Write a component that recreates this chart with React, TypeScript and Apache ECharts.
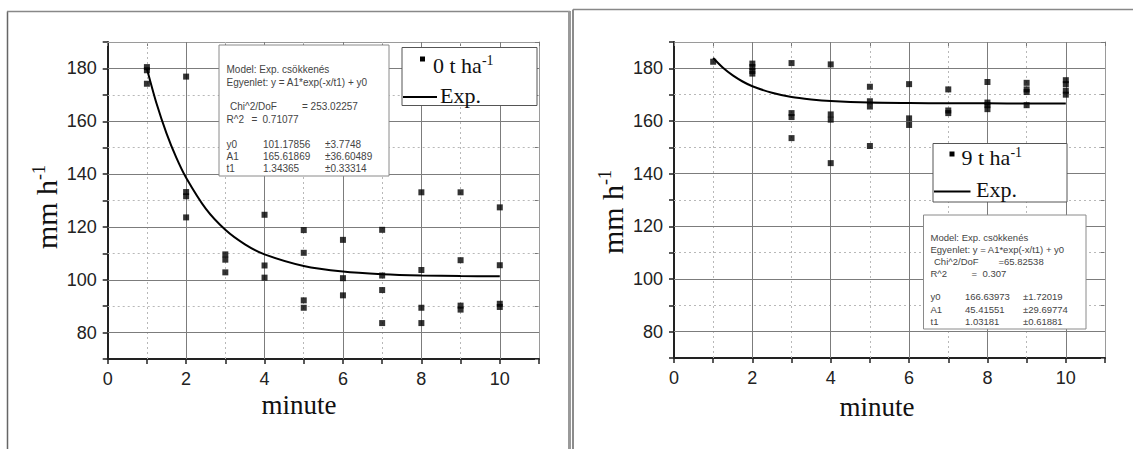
import React, { useEffect, useRef } from 'react';
import * as echarts from 'echarts';

// ---- data ----
const minutes = [1, 2, 3, 4, 5, 6, 7, 8, 9, 10];

// 0 t ha-1 (left panel), values per minute
const leftValues: number[][] = [
  [180.5, 179.3, 174.2],
  [176.9, 133.2, 131.6, 123.6],
  [109.6, 107.6, 102.8],
  [124.6, 105.4, 100.8],
  [118.8, 110.2, 92.2, 89.4],
  [115.1, 100.6, 94.1],
  [118.9, 101.6, 96.1, 83.6],
  [133.1, 103.7, 89.4, 83.6],
  [133.1, 107.4, 90.2, 88.7],
  [127.4, 105.5, 90.9, 89.7],
];

// 9 t ha-1 (right panel), values per minute
const rightValues: number[][] = [
  [182.5],
  [181.8, 180.5, 179.0, 178.0],
  [182.0, 163.0, 161.5, 153.5],
  [181.5, 162.5, 160.5, 144.0],
  [173.0, 167.5, 165.5, 150.5],
  [174.0, 161.0, 158.5],
  [172.0, 164.0, 163.0],
  [174.8, 167.0, 166.0, 164.5],
  [174.5, 172.0, 171.0, 166.0],
  [175.5, 174.0, 171.5, 170.0],
];

// fitted "Exp." curves
const fitMinutes = [1, 1.25, 1.5, 1.75, 2, 2.5, 3, 3.5, 4, 5, 6, 7, 8, 9, 10];
const leftFit = [179.9, 166.5, 155.4, 146.2, 138.6, 126.9, 118.9, 113.4, 109.6, 105.2, 103.1, 102.1, 101.6, 101.4, 101.3];
const rightFit = [183.9, 180.2, 177.3, 175.0, 173.2, 170.7, 169.1, 168.2, 167.6, 167.0, 166.8, 166.7, 166.7, 166.6, 166.6];

// axis ticks
const yMajorTicks = [80, 100, 120, 140, 160, 180];
const yMinorTicks = [90, 110, 130, 150, 170];
const xMajorTicks = [2, 4, 6, 8, 10];
const xMinorTicks = [1, 3, 5, 7, 9];

// texts
const leftStats = {
  model: 'Model: Exp. csökkenés',
  eq: 'Egyenlet: y = A1*exp(-x/t1) + y0',
  chi: '= 253.02257',
  r2: '0.71077',
  rows: [
    ['y0', '101.17856', '±3.7748'],
    ['A1', '165.61869', '±36.60489'],
    ['t1', '1.34365', '±0.33314'],
  ],
};
const rightStats = {
  model: 'Model: Exp. csökkenés',
  eq: 'Egyenlet: y = A1*exp(-x/t1) + y0',
  chi: '=65.82538',
  r2: '0.307',
  rows: [
    ['y0', '166.63973', '±1.72019'],
    ['A1', '45.41551', '±29.69774'],
    ['t1', '1.03181', '±0.61881'],
  ],
};

const SANS = 'Liberation Sans, Arial, sans-serif';
const SERIF = 'Liberation Serif, Times New Roman, serif';

function gridLines() {
  return [
    ...yMinorTicks.map((v) => ({ yAxis: v, lineStyle: { color: '#b8b8b8', width: 1, type: [2, 3] } })),
    ...xMinorTicks.map((v) => ({ xAxis: v, lineStyle: { color: '#b8b8b8', width: 1, type: [2, 3] } })),
    ...yMajorTicks.map((v) => ({ yAxis: v, lineStyle: { color: '#7c7c7c', width: 1, type: 'solid' } })),
    ...xMajorTicks.map((v) => ({ xAxis: v, lineStyle: { color: '#7c7c7c', width: 1, type: 'solid' } })),
  ];
}

function axesFor(grid: number) {
  const xLabel = (v: number) => (v % 2 === 0 && v <= 10 ? String(v) : '');
  const yLabel = (v: number) => (yMajorTicks.includes(v) ? String(v) : '');
  const xa = [
    {
      type: 'value', gridIndex: grid, position: 'bottom', min: 0, max: 11, interval: 1,
      axisLine: { show: true, onZero: false, lineStyle: { color: '#222', width: 2 } },
      axisTick: { show: true, inside: false, length: 5, lineStyle: { color: '#222', width: 1.5 } },
      axisLabel: { formatter: xLabel, fontSize: 18, color: '#222', fontFamily: SANS, margin: 11 },
      splitLine: { show: false },
    },
    {
      type: 'value', gridIndex: grid, position: 'top', min: 0, max: 11, interval: 1,
      axisLine: { show: true, onZero: false, lineStyle: { color: '#9a9a9a', width: 1 } },
      axisTick: { show: true, inside: true, length: 4, lineStyle: { color: '#777' } },
      axisLabel: { show: false },
      splitLine: { show: false },
    },
  ];
  const ya = [
    {
      type: 'value', gridIndex: grid, position: 'left', min: 70, max: 190, interval: 10,
      axisLine: { show: true, onZero: false, lineStyle: { color: '#222', width: 2 } },
      axisTick: { show: true, inside: false, length: 5, lineStyle: { color: '#222', width: 1.5 } },
      axisLabel: { formatter: yLabel, fontSize: 18, color: '#222', fontFamily: SANS, margin: 11 },
      splitLine: { show: false },
    },
    {
      type: 'value', gridIndex: grid, position: 'right', min: 70, max: 190, interval: 10,
      axisLine: { show: true, onZero: false, lineStyle: { color: '#9a9a9a', width: 1 } },
      axisTick: { show: true, inside: true, length: 4, lineStyle: { color: '#777' } },
      axisLabel: { show: false },
      splitLine: { show: false },
    },
  ];
  return { xa, ya };
}

function seriesFor(grid: number, values: number[][], fit: number[], name: string) {
  const xi = grid * 2;
  const yi = grid * 2;
  return [
    {
      name,
      type: 'scatter',
      xAxisIndex: xi,
      yAxisIndex: yi,
      data: minutes.flatMap((m, i) => values[i].map((v) => [m, v])),
      symbol: 'rect',
      symbolSize: 6,
      itemStyle: { color: '#000' },
      z: 4,
      silent: true,
      markLine: {
        silent: true,
        symbol: ['none', 'none'],
        label: { show: false },
        z: 1,
        data: gridLines(),
      },
    },
    {
      name: 'Exp.',
      type: 'line',
      xAxisIndex: xi,
      yAxisIndex: yi,
      data: fitMinutes.map((x, i) => [x, fit[i]]),
      smooth: 0.3,
      showSymbol: false,
      symbol: 'none',
      lineStyle: { color: '#000', width: 2 },
      z: 5,
      silent: true,
    },
  ];
}

function statsBox(x: number, y: number, w: number, h: number, s: typeof leftStats, fs: number, rowsY: number[], cols: number[], chiX: number, eqX: number) {
  const t = (text: string, tx: number, ty: number) => ({
    type: 'text', x: tx, y: ty, z: 101,
    style: { text, fill: '#444', fontSize: fs, fontFamily: SANS, align: 'left', verticalAlign: 'middle' },
  });
  return [
    { type: 'rect', z: 100, shape: { x, y, width: w, height: h }, style: { fill: '#fff', stroke: '#8a8a8a', lineWidth: 1 } },
    t(s.model, cols[0], rowsY[0]),
    t(s.eq, cols[0], rowsY[1]),
    t('Chi^2/DoF', cols[0] + 3.5, rowsY[2]),
    t(s.chi, chiX, rowsY[2]),
    t('R^2', cols[0], rowsY[3]),
    t('=', eqX, rowsY[3]),
    t(s.r2, eqX + 11, rowsY[3]),
    ...s.rows.flatMap((r, i) => r.map((c, j) => t(c, cols[j], rowsY[4 + i]))),
  ];
}

function legendBox(x: number, y: number, w: number, h: number, label: string, mx: number, my: number, tx: number, ty: number, lx1: number, lx2: number, ly: number, ex: number, ey: number) {
  return [
    { type: 'rect', z: 100, shape: { x, y, width: w, height: h }, style: { fill: '#fff', stroke: '#555', lineWidth: 1 } },
    { type: 'rect', z: 101, shape: { x: mx, y: my, width: 5, height: 5 }, style: { fill: '#000' } },
    {
      type: 'text', z: 101, x: tx, y: ty,
      style: {
        text: `{a|${label}}{b|-1}`, align: 'left', verticalAlign: 'middle',
        rich: {
          a: { fontSize: 22, fontFamily: SERIF, fill: '#111', verticalAlign: 'middle', lineHeight: 24 },
          b: { fontSize: 14, fontFamily: SERIF, fill: '#111', verticalAlign: 'top', lineHeight: 14 },
        },
      },
    },
    { type: 'line', z: 101, shape: { x1: lx1, y1: ly, x2: lx2, y2: ly }, style: { stroke: '#000', lineWidth: 2 } },
    {
      type: 'text', z: 101, x: ex, y: ey,
      style: { text: 'Exp.', fontSize: 22, fontFamily: SERIF, fill: '#111', align: 'left', verticalAlign: 'middle' },
    },
  ];
}

function axisTitles(yx: number, yy: number, mx: number, my: number) {
  return [
    {
      type: 'text', z: 50, x: yx, y: yy, rotation: Math.PI / 2,
      style: {
        text: '{a|mm h}{b|-1}', align: 'center', verticalAlign: 'middle',
        rich: {
          a: { fontSize: 30, fontFamily: SERIF, fill: '#111', verticalAlign: 'middle', lineHeight: 32 },
          b: { fontSize: 18, fontFamily: SERIF, fill: '#111', verticalAlign: 'top', lineHeight: 18 },
        },
      },
    },
    {
      type: 'text', z: 50, x: mx, y: my,
      style: { text: 'minute', fontSize: 27, fontFamily: SERIF, fill: '#111', align: 'center', verticalAlign: 'middle' },
    },
  ];
}

export default function App() {
  const ref = useRef<HTMLDivElement>(null);
  useEffect(() => {
    if (!ref.current) return;
    const chart = echarts.init(ref.current, undefined, { renderer: 'svg' });
    const a0 = axesFor(0);
    const a1 = axesFor(1);
    const frames = [
      { type: 'line', z: 10, shape: { x1: 7.5, y1: 11.5, x2: 7.5, y2: 449 }, style: { stroke: '#666', lineWidth: 1.5 } },
      { type: 'line', z: 10, shape: { x1: 7, y1: 11.5, x2: 570, y2: 11.5 }, style: { stroke: '#888', lineWidth: 1.5 } },
      { type: 'line', z: 10, shape: { x1: 569.5, y1: 11, x2: 569.5, y2: 449 }, style: { stroke: '#9a9a9a', lineWidth: 3 } },
      { type: 'line', z: 10, shape: { x1: 573, y1: 9.5, x2: 573, y2: 449 }, style: { stroke: '#666', lineWidth: 1.5 } },
      { type: 'line', z: 10, shape: { x1: 573, y1: 9.5, x2: 1133, y2: 9.5 }, style: { stroke: '#888', lineWidth: 1.5 } },
    ];
    const option: any = {
      animation: false,
      backgroundColor: '#fff',
      grid: [
        { left: 107.7, top: 42, width: 431.3, height: 317, containLabel: false, outerBoundsMode: 'none' },
        { left: 674, top: 42, width: 431, height: 316, containLabel: false, outerBoundsMode: 'none' },
      ],
      xAxis: [...a0.xa, ...a1.xa],
      yAxis: [...a0.ya, ...a1.ya],
      series: [
        ...seriesFor(0, leftValues, leftFit, '0 t ha-1'),
        ...seriesFor(1, rightValues, rightFit, '9 t ha-1'),
      ],
      graphic: [
        ...frames,
        ...axisTitles(46, 207, 299, 405),
        ...axisTitles(612, 212, 877, 407),
        ...statsBox(219, 45, 170, 131, leftStats, 10, [69, 82.5, 106.5, 119.5, 144.5, 156.5, 168.5], [226.5, 263, 325], 302, 251.5),
        ...statsBox(923.5, 215, 162.5, 114, rightStats, 9.5, [237.5, 249, 261, 273, 296.5, 309, 321.5], [930.5, 965, 1023], 998.5, 971.5),
        ...legendBox(402, 47.5, 135, 58, '0 t ha', 420, 56.5, 433, 65, 403, 437, 97, 440, 95),
        ...legendBox(933, 143.5, 134, 58.5, '9 t ha', 949.5, 151.5, 961.5, 157.5, 934, 970.5, 191.5, 976, 189.5),
      ],
    };
    chart.setOption(option);
    return () => chart.dispose();
  }, []);
  return (
    <div
      ref={ref}
      style={{ position: 'fixed', left: 0, top: 0, width: 1133, height: 449, background: '#fff' }}
    />
  );
}
